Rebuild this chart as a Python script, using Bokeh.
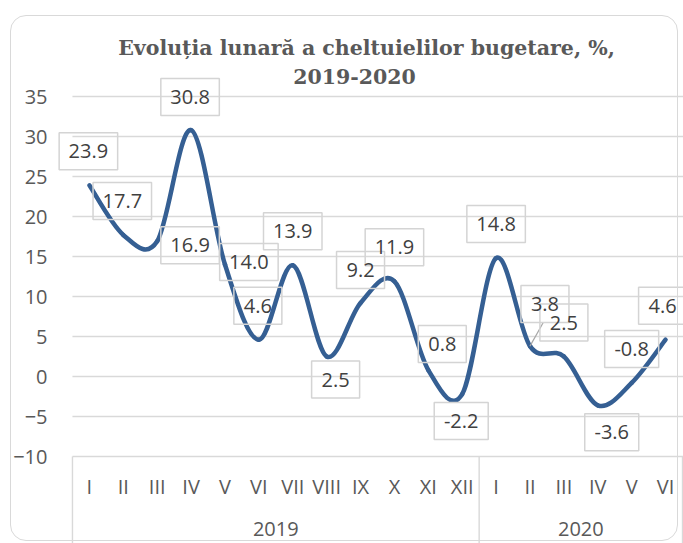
from bokeh.plotting import figure
from bokeh.models import Range1d, FixedTicker, Label
from bokeh.embed import file_html
from bokeh.resources import INLINE
from bokeh.core.properties import value

# ---- data ----
months_2019 = ["I", "II", "III", "IV", "V", "VI", "VII", "VIII", "IX", "X", "XI", "XII"]
months_2020 = ["I", "II", "III", "IV", "V", "VI"]
years = ["2019", "2020"]
values_2019 = [23.9, 17.7, 16.9, 30.8, 14.0, 4.6, 13.9, 2.5, 9.2, 11.9, 0.8, -2.2]
values_2020 = [14.8, 3.8, 2.5, -3.6, -0.8, 4.6]
y_ticks = [-10, -5, 0, 5, 10, 15, 20, 25, 30, 35]
title_line1 = "Evoluția lunară a cheltuielilor bugetare, %,"
title_line2 = "2019-2020"

# label placement (pixel offsets from the point, as in the original)
label_dx_px = [-1, -1, 33, -1, 24, -1, 0, 9, 0, 0, 14, -1, 0, 15, 0, 14, 0, -3]
label_dy_px = [34, 34, -4, 33, 2.5, 34, 34, -23, 33, 34, 26, -27, 34, 42, 34, -27, 34, 34]
leader_index = 13

PX_PER_CAT = 34.0
PX_PER_UNIT = 8.0

values = values_2019 + values_2020
months = months_2019 + months_2020
groups = [len(months_2019), len(months_2020)]
n = len(values)
xs = [i + 0.5 for i in range(n)]

LINE_COLOR = "#355f93"
GRID = "#d9d9d9"
TXT = "#595959"
LBL = "#404040"
FONT = "Open Sans"
FS = "20px"

y_bottom = -20.875
x_start = -15 / 34
p = figure(width=673, height=528,
           x_range=Range1d(x_start, 18.029), y_range=Range1d(y_bottom, 45.125),
           output_backend="svg", toolbar_location=None, title=None,
           x_axis_location=None, y_axis_location="left",
           min_border_left=45, min_border_right=0, min_border_top=0, min_border_bottom=0)
p.styles = {"margin-left": "10px", "margin-top": "15px"}
p.stylesheets = [
    ":host { position: relative; }"
    ":host::after { content: ''; position: absolute; left: 0px; top: 0px; width: 666px; height: 524px;"
    " border: 1px solid #d9d9d9; border-radius: 16px; pointer-events: none; }"
]
p.outline_line_color = None
p.background_fill_color = "white"
p.border_fill_color = "white"

# y axis
ax = p.yaxis[0]
ax.ticker = FixedTicker(ticks=y_ticks)
ax.axis_line_color = None
ax.major_tick_line_color = None
ax.minor_tick_line_color = None
ax.major_tick_out = 0
ax.major_tick_in = 0
ax.major_label_standoff = 10
ax.major_label_text_font = FONT
ax.major_label_text_font_size = FS
ax.major_label_text_color = TXT

p.xgrid.visible = False
p.ygrid.visible = False

bounds = [0]
for g in groups:
    bounds.append(bounds[-1] + g)

# horizontal gridlines across the category area
p.segment(x0=[bounds[0]] * len(y_ticks), y0=y_ticks, x1=[bounds[-1] + 0.5] * len(y_ticks), y1=y_ticks,
          line_color=GRID, line_width=1.4)

# category box: vertical separators
p.segment(x0=bounds, y0=[y_ticks[0]] * len(bounds), x1=bounds, y1=[y_bottom] * len(bounds),
          line_color=GRID, line_width=1.4)

# month labels
p.text(x=xs, y=[-13.75] * n, text=months, text_align="center", text_baseline="middle",
       text_font=value(FONT), text_font_size=FS, text_color=TXT)
# year labels
year_x = [(bounds[k] + bounds[k + 1]) / 2 for k in range(len(groups))]
p.text(x=year_x, y=[-19.0] * len(years), text=years, text_align="center", text_baseline="middle",
       text_font=value(FONT), text_font_size=FS, text_color=TXT)

# smoothed line (Catmull-Rom style bezier, like Excel)
x0, y0, x1, y1, cx0, cy0, cx1, cy1 = [], [], [], [], [], [], [], []
for i in range(n - 1):
    pr = max(i - 1, 0)
    nx = min(i + 2, n - 1)
    x0.append(xs[i]); y0.append(values[i])
    x1.append(xs[i + 1]); y1.append(values[i + 1])
    cx0.append(xs[i] + (xs[i + 1] - xs[pr]) / 6.0)
    cy0.append(values[i] + (values[i + 1] - values[pr]) / 6.0)
    cx1.append(xs[i + 1] - (xs[nx] - xs[i]) / 6.0)
    cy1.append(values[i + 1] - (values[nx] - values[i]) / 6.0)
p.bezier(x0=x0, y0=y0, x1=x1, y1=y1, cx0=cx0, cy0=cy0, cx1=cx1, cy1=cy1,
         line_color=LINE_COLOR, line_width=4.5, line_cap="round")

# data labels
texts = ["%.1f" % v for v in values]
lx = [xs[i] + label_dx_px[i] / PX_PER_CAT for i in range(n)]
ly = [values[i] + label_dy_px[i] / PX_PER_UNIT for i in range(n)]


def box_w(s):
    w = 22.5
    for ch in s:
        w += 4.5 if ch == "." else (6.0 if ch == "-" else 10.5)
    return w


widths = [box_w(s) for s in texts]

# leader line
li = leader_index
p.segment(x0=[xs[li]], y0=[values[li]], x1=[lx[li] - 0.05], y1=[ly[li] - 2.3],
          line_color="#a6a6a6", line_width=1.2)

p.rect(x=lx, y=ly, width=widths, height=[37] * n, width_units="screen", height_units="screen",
       fill_color=None, line_color="#d4d4d4", line_width=1.5)
p.text(x=lx, y=ly, text=texts, text_align="center", text_baseline="middle",
       text_font=value(FONT), text_font_size=FS, text_color=LBL)

# title
p.add_layout(Label(x=309, y=495.5, x_units="screen", y_units="screen", text=title_line1,
                   text_align="center", text_baseline="middle", text_font="DejaVu Serif",
                   text_font_style="bold", text_font_size="20.5px", text_color=TXT))
p.add_layout(Label(x=297, y=467.5, x_units="screen", y_units="screen", text=title_line2,
                   text_align="center", text_baseline="middle", text_font="DejaVu Serif",
                   text_font_style="bold", text_font_size="20.5px", text_color=TXT))

open("out.html", "w").write(file_html(p, INLINE))
